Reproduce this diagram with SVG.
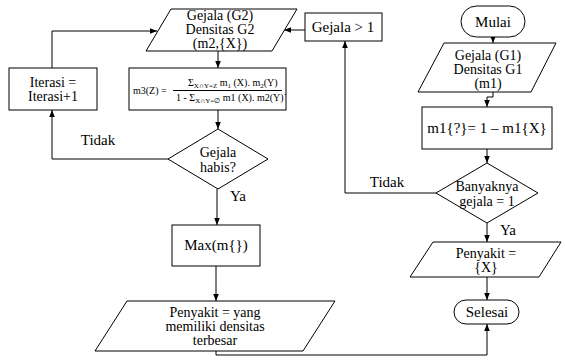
<svg xmlns="http://www.w3.org/2000/svg" width="565" height="363" viewBox="0 0 565 363">
<defs>
<marker id="ah" viewBox="0 0 10 10" refX="10" refY="5" markerWidth="7" markerHeight="7" orient="auto" markerUnits="userSpaceOnUse"><path d="M0,1 L10,5 L0,9 z" fill="#000"/></marker>
</defs>
<style>
.s{fill:#fff;stroke:#000;stroke-width:1}
.t{font-family:"Liberation Serif","Times New Roman",serif;font-size:15px;text-anchor:middle;fill:#000}
.m{font-family:"Liberation Serif","Times New Roman",serif;font-size:14px;text-anchor:middle;fill:#000}
.f{font-family:"Liberation Serif","Times New Roman",serif;font-size:10px;fill:#000}
.c{fill:none;stroke:#000;stroke-width:1;marker-end:url(#ah)}
.l{fill:none;stroke:#000;stroke-width:1}
</style>
<rect width="565" height="363" fill="#fff"/>
<g id="connectors">
<path class="c" d="M493,37 V43"/>
<path class="c" d="M493,92 V97 H487 V107"/>
<path class="c" d="M487,149 V163"/>
<path class="c" d="M487,223 V242"/>
<path class="c" d="M487,277 V300"/>
<path class="c" d="M436,193 H345 V41"/>
<path class="c" d="M305,30 H284"/>
<path class="c" d="M216,351 V355 H487 V324"/>
<path class="c" d="M218,51 V68"/>
<path class="c" d="M218,110 V129"/>
<path class="c" d="M217,189 V225"/>
<path class="c" d="M216,266 V301"/>
<path class="c" d="M168,159 H52 V110"/>
<path class="c" d="M52,68 V31 H157"/>
<text class="t" x="387" y="187">Tidak</text>
<text class="t" x="508" y="235">Ya</text>
<text class="t" x="98" y="145">Tidak</text>
<text class="t" x="238" y="201">Ya</text>
</g>
<g id="mulai">
<rect class="s" x="461" y="6" width="64" height="31" rx="15.5"/>
<text class="t" x="493" y="27">Mulai</text>
</g>
<g id="input-g1">
<polygon class="s" points="444,43 556,43 531,92 418,92"/>
<text class="m" x="488" y="59.5">Gejala (G1)</text>
<text class="m" x="488" y="73.5">Densitas G1</text>
<text class="m" x="488" y="87.5">(m1)</text>
</g>
<g id="m1">
<rect class="s" x="422" y="107" width="130" height="42"/>
<text class="t" x="487" y="133">m1{?}= 1 – m1{X}</text>
</g>
<g id="banyaknya">
<polygon class="s" points="487,163 538,193 487,223 436,193"/>
<text class="m" x="487" y="191">Banyaknya</text>
<text class="m" x="487" y="205.5">gejala = 1</text>
</g>
<g id="penyakit-x">
<polygon class="s" points="433,242 561,242 539,277 410,277"/>
<text class="m" x="486" y="257.5">Penyakit =</text>
<text class="m" x="486" y="272">{X}</text>
</g>
<g id="selesai">
<rect class="s" x="454" y="300" width="65" height="24" rx="12"/>
<text class="t" x="487" y="317">Selesai</text>
</g>
<g id="gejala-gt1">
<rect class="s" x="305" y="13" width="77" height="28"/>
<text class="t" x="343" y="32">Gejala &gt; 1</text>
</g>
<g id="input-g2">
<polygon class="s" points="171,9 297,9 272,51 146,51"/>
<text class="m" x="220" y="20">Gejala (G2)</text>
<text class="m" x="220" y="34">Densitas G2</text>
<text class="m" x="220" y="47.5">(m2,{X})</text>
</g>
<g id="iterasi">
<rect class="s" x="9" y="68" width="88" height="42"/>
<text class="m" x="53" y="86.5">Iterasi =</text>
<text class="m" x="53" y="101">Iterasi+1</text>
</g>
<g id="m3">
<rect class="s" x="129" y="68" width="157" height="42"/>
<text class="f" x="133" y="94" font-size="11.5">m3(Z) =</text>
<line class="l" x1="173" y1="90.5" x2="282" y2="90.5"/>
<text class="f" x="188" y="86">Σ<tspan font-size="7" dy="2">X∩Y=Z</tspan><tspan dy="-2"> m</tspan><tspan font-size="7" dy="2">1</tspan><tspan dy="-2"> (X). m</tspan><tspan font-size="7" dy="2">2</tspan><tspan dy="-2">(Y)</tspan></text>
<text class="f" x="176" y="101">1 - Σ<tspan font-size="7" dy="2">X∩Y=∅</tspan><tspan dy="-2"> m1 (X). m2(Y)</tspan></text>
<text class="f" x="284" y="95">.</text>
</g>
<g id="gejala-habis">
<polygon class="s" points="218,129 268,159 218,189 168,159"/>
<text class="m" x="218" y="157">Gejala</text>
<text class="m" x="218" y="171.5">habis?</text>
</g>
<g id="max">
<rect class="s" x="172" y="225" width="88" height="41"/>
<text class="t" x="216" y="250">Max(m{})</text>
</g>
<g id="penyakit-terbesar">
<polygon class="s" points="127,301 335,301 303,351 95,351"/>
<text class="m" x="215" y="317">Penyakit = yang</text>
<text class="m" x="215" y="331">memiliki densitas</text>
<text class="m" x="215" y="345">terbesar</text>
</g>
</svg>
